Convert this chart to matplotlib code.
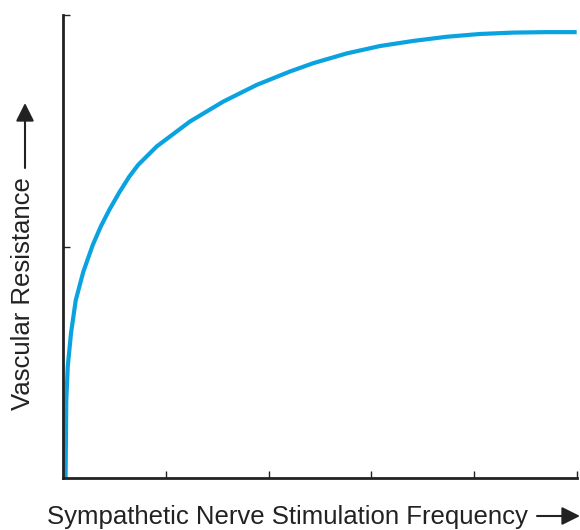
import matplotlib
matplotlib.use('Agg')
import matplotlib.pyplot as plt
from matplotlib.patches import FancyArrowPatch

plt.rcParams['font.family'] = ['Liberation Sans', 'DejaVu Sans']

# curve (frequency in tick units, resistance as fraction)
freq = [0.025, 0.029, 0.032, 0.046, 0.078, 0.124, 0.197, 0.289, 0.367, 0.450,
        0.548, 0.645, 0.730, 0.911, 1.235, 1.559, 1.884, 2.208, 2.435, 2.760,
        3.084, 3.408, 3.732, 4.056, 4.380, 4.705, 4.997]
resistance = [0.0, 0.097, 0.168, 0.240, 0.313, 0.384, 0.445, 0.503, 0.543, 0.579,
              0.617, 0.651, 0.676, 0.716, 0.770, 0.813, 0.849, 0.878, 0.896, 0.917,
              0.933, 0.944, 0.953, 0.959, 0.962, 0.963, 0.963]
x_ticks = [1, 2, 3, 4, 5]
y_ticks = [0.5, 1.0]

fig = plt.figure(figsize=(5.8, 5.3), dpi=100)
ax = fig.add_axes([63 / 580, 52 / 530, 514 / 580, 463 / 530])

ax.plot(freq, resistance, color='#0aa3e0', lw=3, solid_capstyle='butt',
        solid_joinstyle='round')

ax.set_xlim(0, 5)
ax.set_ylim(0, 1)
ax.set_xticks(x_ticks)
ax.set_yticks(y_ticks)
ax.set_xticklabels([])
ax.set_yticklabels([])
ax.tick_params(direction='in', length=5, width=1, color='#222222')
for s in ['top', 'right']:
    ax.spines[s].set_visible(False)
for s in ['left', 'bottom']:
    ax.spines[s].set_linewidth(2)
    ax.spines[s].set_color('#222222')

# axis titles with arrows
fig.text(47 / 580, 1 - 517 / 530, 'Sympathetic Nerve Stimulation Frequency',
         fontsize=18.5, color='#222222', va='center', ha='left')
fig.text(23 / 580, 1 - 294 / 530, 'Vascular Resistance', fontsize=18.5,
         color='#222222', rotation=90, va='center', ha='center')
fig.patches.append(FancyArrowPatch(
    (537 / 580, 1 - 516 / 530), (580 / 580, 1 - 516 / 530),
    transform=fig.transFigure, arrowstyle='-|>,head_length=11,head_width=5.5',
    mutation_scale=1, color='#222222', lw=1.5, shrinkA=0, shrinkB=0))
fig.patches.append(FancyArrowPatch(
    (25 / 580, 1 - 168 / 530), (25 / 580, 1 - 103 / 530),
    transform=fig.transFigure, arrowstyle='-|>,head_length=11,head_width=5.5',
    mutation_scale=1, color='#222222', lw=1.5, shrinkA=0, shrinkB=0))

plt.savefig('out.png', dpi=100)
